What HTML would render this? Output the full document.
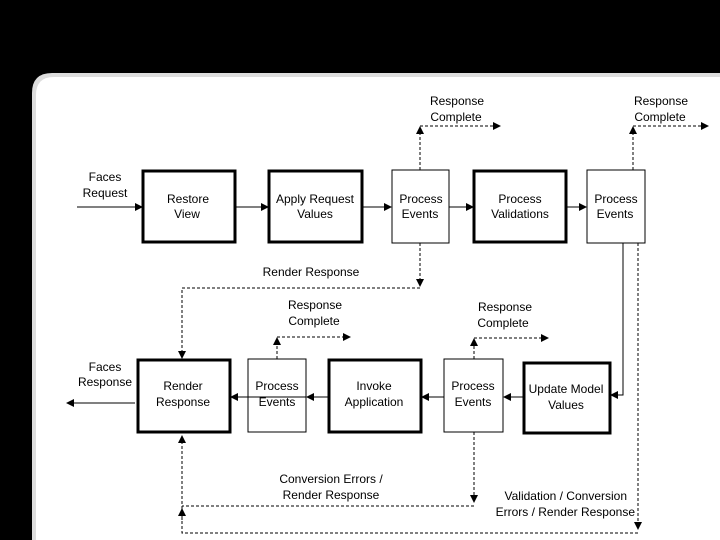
<!DOCTYPE html>
<html><head><meta charset="utf-8"><style>
html,body{margin:0;padding:0;background:#000;width:720px;height:540px;overflow:hidden}
svg{display:block;overflow:hidden}
text{font-family:"Liberation Sans",sans-serif;font-size:12px;fill:#000}
</style></head><body>
<svg width="720" height="540" viewBox="0 0 720 540" xmlns="http://www.w3.org/2000/svg">
<defs>
<marker id="a" markerWidth="8" markerHeight="8" refX="7" refY="4" orient="auto" markerUnits="userSpaceOnUse">
<path d="M0,0 L8,4 L0,8 z" fill="#000"/></marker>
</defs>
<rect x="0" y="0" width="720" height="540" fill="#000"/>
<path d="M32,540 L32,93 Q32,73 52,73 L720,73 L720,540 Z" fill="#ddd"/>
<path d="M36,540 L36,95 Q36,77 54,77 L720,77 L720,540 Z" fill="#fff"/>

<g fill="#fff" stroke="#000">
<rect x="143" y="171" width="92" height="71" stroke-width="3"/>
<rect x="269" y="171" width="93" height="71" stroke-width="3"/>
<rect x="392" y="170" width="57" height="73" stroke-width="1"/>
<rect x="474" y="171" width="92" height="71" stroke-width="3"/>
<rect x="587" y="170" width="58" height="73" stroke-width="1"/>

<rect x="138" y="360" width="92" height="72" stroke-width="3"/>
<rect x="248" y="359" width="58" height="73" stroke-width="1"/>
<rect x="329" y="360" width="92" height="72" stroke-width="3"/>
<rect x="444" y="359" width="59" height="73" stroke-width="1"/>
<rect x="524" y="363" width="86" height="70" stroke-width="3"/>
</g>

<g stroke="#000" stroke-width="1" fill="none">
<line x1="77" y1="207" x2="142" y2="207" marker-end="url(#a)"/>
<line x1="235" y1="207" x2="268" y2="207" marker-end="url(#a)"/>
<line x1="362" y1="207" x2="391" y2="207" marker-end="url(#a)"/>
<line x1="449" y1="207" x2="473" y2="207" marker-end="url(#a)"/>
<line x1="566" y1="207" x2="586" y2="207" marker-end="url(#a)"/>
<polyline points="623,243 623,395 611,395" marker-end="url(#a)"/>

<line x1="306" y1="397" x2="231" y2="397" marker-end="url(#a)"/>
<line x1="329" y1="397" x2="307" y2="397" marker-end="url(#a)"/>
<line x1="444" y1="397" x2="422" y2="397" marker-end="url(#a)"/>
<line x1="524" y1="397" x2="504" y2="397" marker-end="url(#a)"/>
<line x1="135" y1="403" x2="67" y2="403" marker-end="url(#a)"/>
</g>

<g stroke="#000" stroke-width="1" fill="none" stroke-dasharray="3,2">
<line x1="420" y1="170" x2="420" y2="127" marker-end="url(#a)"/>
<line x1="420" y1="126" x2="500" y2="126" marker-end="url(#a)"/>
<line x1="633" y1="170" x2="633" y2="127" marker-end="url(#a)"/>
<line x1="633" y1="126" x2="708" y2="126" marker-end="url(#a)"/>

<line x1="420" y1="243" x2="420" y2="286" marker-end="url(#a)"/>
<polyline points="420,288 182,288 182,358" marker-end="url(#a)"/>

<line x1="277" y1="359" x2="277" y2="338" marker-end="url(#a)"/>
<line x1="277" y1="337" x2="350" y2="337" marker-end="url(#a)"/>
<line x1="474" y1="359" x2="474" y2="339" marker-end="url(#a)"/>
<line x1="474" y1="338" x2="548" y2="338" marker-end="url(#a)"/>

<line x1="474" y1="432" x2="474" y2="502" marker-end="url(#a)"/>
<polyline points="474,506 182,506"/>
<line x1="638" y1="243" x2="638" y2="529" marker-end="url(#a)"/>
<polyline points="638,533 182,533 182,436" marker-end="url(#a)"/>
<line x1="182" y1="520" x2="182" y2="509" marker-end="url(#a)"/>
</g>

<g text-anchor="middle">
<text x="105" y="181">Faces</text><text x="105" y="197">Request</text>
<text x="188" y="203">Restore</text><text x="187" y="218">View</text>
<text x="315" y="203">Apply Request</text><text x="315" y="218">Values</text>
<text x="421" y="203">Process</text><text x="420" y="218">Events</text>
<text x="520" y="203">Process</text><text x="520" y="218">Validations</text>
<text x="616" y="203">Process</text><text x="615" y="218">Events</text>
<text x="457" y="105">Response</text><text x="456" y="121">Complete</text>
<text x="661" y="105">Response</text><text x="660" y="121">Complete</text>
<text x="311" y="276">Render Response</text>

<text x="105" y="371">Faces</text><text x="105" y="386">Response</text>
<text x="183" y="390">Render</text><text x="183" y="406">Response</text>
<text x="277" y="390">Process</text><text x="277" y="406">Events</text>
<text x="374" y="390">Invoke</text><text x="374" y="406">Application</text>
<text x="473" y="390">Process</text><text x="473" y="406">Events</text>
<text x="566" y="393">Update Model</text><text x="566" y="409">Values</text>
<text x="315" y="309">Response</text><text x="314" y="325">Complete</text>
<text x="505" y="311">Response</text><text x="503" y="327">Complete</text>
<text x="331" y="483">Conversion Errors /</text><text x="331" y="499">Render Response</text>
</g>
<g text-anchor="end">
<text x="627" y="500">Validation / Conversion</text>
<text x="635" y="516">Errors / Render Response</text>
</g>
</svg>
</body></html>
